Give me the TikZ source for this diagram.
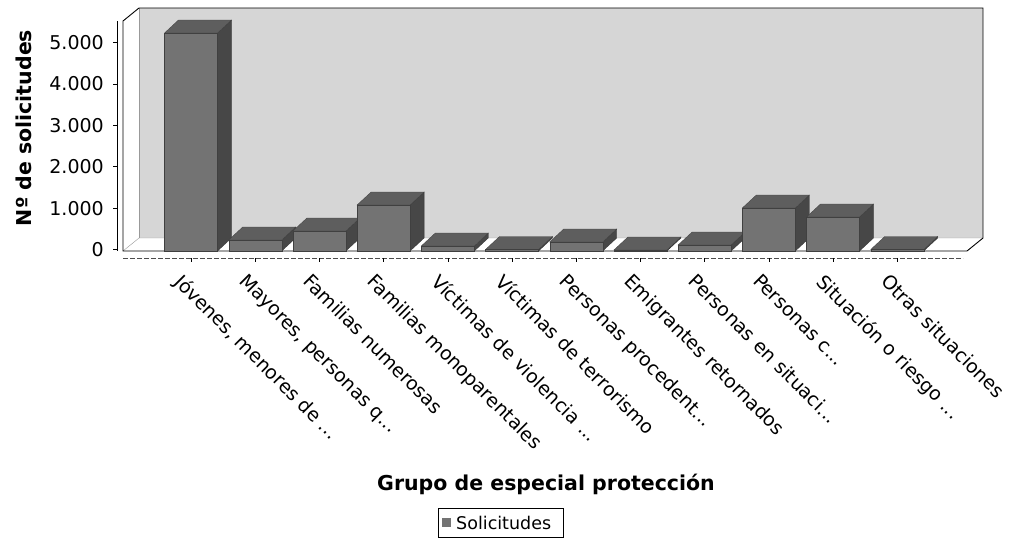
\documentclass[tikz,border=0pt]{standalone}
\usepackage{fontspec}
\setmainfont{DejaVu Sans}
\begin{document}
\begin{tikzpicture}[x=1pt,y=-1pt,
  backwall/.style={fill=black!16},
  outline/.style={draw=black, line width=0.9pt},
  barfront/.style={fill=black!55, draw=black!75, line width=0.3pt},
  bartop/.style={fill=black!63, draw=black!75, line width=0.3pt},
  barside/.style={fill=black!72, draw=black!80, line width=0.3pt},
  ticklab/.style={anchor=east, inner sep=0pt, font=\fontsize{19}{19}\selectfont},
  catlab/.style={anchor=north west, rotate=-45, inner sep=0pt, font=\fontsize{19}{19}\selectfont},
  axistitle/.style={font=\bfseries\fontsize{20.5}{20.5}\selectfont, inner sep=0pt},
  legbox/.style={draw=black, line width=0.7pt, minimum width=125pt, minimum height=29pt, inner sep=0pt},
  legtext/.style={anchor=west, inner sep=0pt, font=\fontsize{17.5}{17.5}\selectfont}
]
\useasboundingbox (0,0) rectangle (1009,542);

% plot walls
\fill[white] (123,21) -- (139,8) -- (983,8) -- (983,238) -- (967,251) -- (123,251) -- cycle;
\fill[backwall] (139,8) rectangle (983,238);
\draw[black!40, line width=0.4pt] (123,251) -- (139,238) -- (983,238);
\draw[black!40, line width=0.4pt] (139,238) -- (139,8);
\draw[outline] (123,21) -- (139,8) -- (983,8) -- (983,238) -- (967,251) -- (123,251) -- cycle;

% bars
\foreach \i/\t in {1/33,2/240,3/231,4/205,5/246,6/249.5,7/242,8/250,9/245,10/208,11/217,12/249.5}{
  \pgfmathsetmacro{\a}{191+64.2*(\i-1)-26.5}
  \pgfmathsetmacro{\b}{\a+53}
  \pgfmathsetmacro{\bb}{\b+14}
  \pgfmathsetmacro{\aa}{\a+14}
  \pgfmathsetmacro{\tt}{\t-13}
  \fill[barside] (\b,251) -- (\bb,238) -- (\bb,\tt) -- (\b,\t) -- cycle;
  \fill[bartop] (\a,\t) -- (\aa,\tt) -- (\bb,\tt) -- (\b,\t) -- cycle;
  \fill[barfront] (\a,\t) rectangle (\b,251);
}

% range axis
\draw[line width=1pt] (117,21) -- (117,251);
\foreach \v/\lab in {0/0,1/1.000,2/2.000,3/3.000,4/4.000,5/5.000}{
  \pgfmathsetmacro{\yy}{249.5-41.4*\v}
  \draw[line width=0.6pt] (113,\yy) -- (117,\yy);
  \node[ticklab] (yt\v) at (104,\yy) {\lab};
}
\node[axistitle, rotate=90] (ytitle) at (24,128) {Nº de solicitudes};

% category axis
\draw[black!70, line width=0.8pt, dash pattern=on 5pt off 2pt] (123,258) -- (963,258);
\foreach \i/\lab in {1/{Jóvenes, menores de ...},2/{Mayores, personas q...},3/{Familias numerosas},4/{Familias monoparentales},5/{Víctimas de violencia ...},6/{Víctimas de terrorismo},7/{Personas procedent...},8/{Emigrantes retornados},9/{Personas en situaci...},10/{Personas c...},11/{Situación o riesgo ...},12/{Otras situaciones}}{
  \pgfmathsetmacro{\cx}{191+64.2*(\i-1)}
  \draw[line width=0.6pt] (\cx,258) -- (\cx,262);
  \node[catlab] (cat\i) at (\cx-7,272) {\lab};
}

% axis title and legend
\node[axistitle] (xtitle) at (546,484) {Grupo de especial protección};
\node[legbox] (legend) at (500.5,522.5) {};
\fill[black!55] (442,518) rectangle (451,527);
\node[legtext] (legtxt) at (456,522.5) {Solicitudes};
\end{tikzpicture}
\end{document}
